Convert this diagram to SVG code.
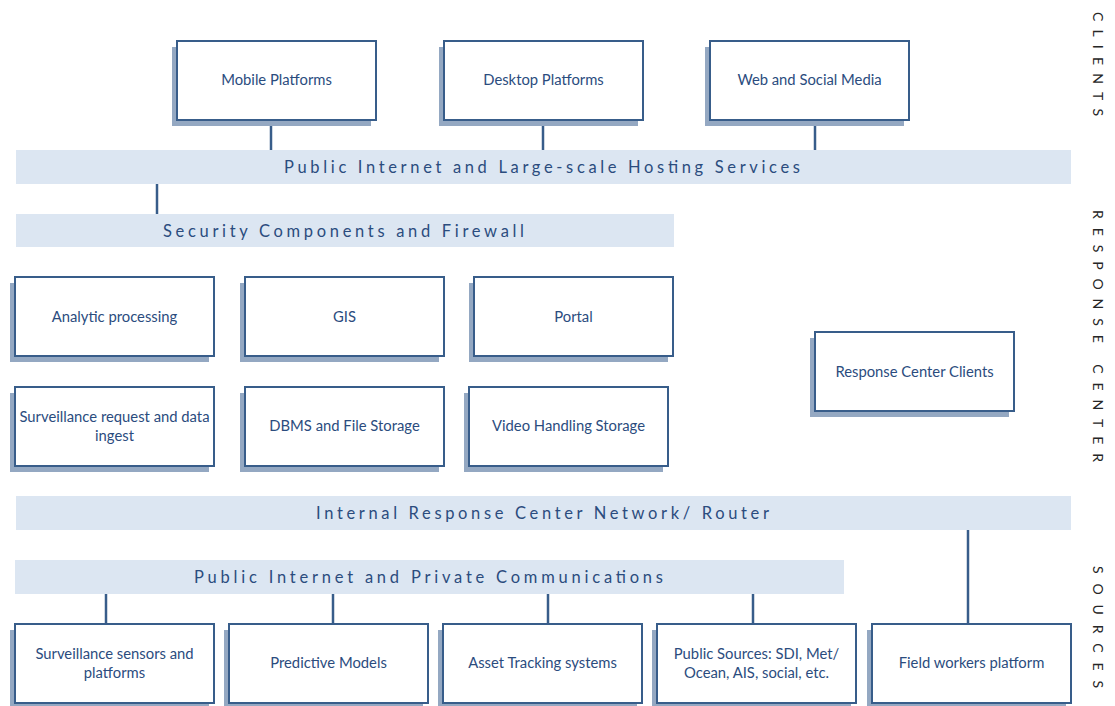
<svg xmlns="http://www.w3.org/2000/svg" width="1115" height="706" viewBox="0 0 1115 706">
<style>
.bg{fill:#ffffff}
.band{fill:#dce6f2}
.shadow{fill:#94a8c2}
.box{fill:#ffffff;stroke:#385d8a;stroke-width:2}
.lbl{font-family:Lato,"Liberation Sans",sans-serif;font-size:14.8px;fill:#2b4c7e;text-anchor:middle}
.blbl{font-family:Lato,"Liberation Sans",sans-serif;font-size:16.5px;fill:#2b4c7e}
.side{font-family:Lato,"Liberation Sans",sans-serif;font-size:14px;fill:#262626}
.conn{stroke:#385d8a;stroke-width:2.5;fill:none}
</style>
<rect class="bg" x="0" y="0" width="1115" height="706"/>
<g id="connectors">
<line class="conn" x1="271" y1="120" x2="271" y2="150"/>
<line class="conn" x1="543" y1="120" x2="543" y2="150"/>
<line class="conn" x1="815" y1="120" x2="815" y2="150"/>
<line class="conn" x1="157" y1="184" x2="157" y2="214"/>
<line class="conn" x1="106" y1="594" x2="106" y2="624"/>
<line class="conn" x1="333" y1="594" x2="333" y2="624"/>
<line class="conn" x1="548" y1="594" x2="548" y2="624"/>
<line class="conn" x1="753" y1="594" x2="753" y2="624"/>
<line class="conn" x1="968" y1="530" x2="968" y2="624"/>
</g>
<g id="band-public-hosting">
<rect class="band" x="16" y="150" width="1055" height="34"/>
<text class="blbl" x="284" y="173" textLength="516" lengthAdjust="spacing">Public Internet and Large-scale Hosting Services</text>
</g>
<g id="band-security">
<rect class="band" x="16" y="214" width="658" height="33"/>
<text class="blbl" x="163" y="237" textLength="361" lengthAdjust="spacing">Security Components and Firewall</text>
</g>
<g id="band-internal">
<rect class="band" x="16" y="496" width="1055" height="34"/>
<text class="blbl" x="316" y="519" textLength="453" lengthAdjust="spacing">Internal Response Center Network/ Router</text>
</g>
<g id="band-private">
<rect class="band" x="15" y="560" width="829" height="34"/>
<text class="blbl" x="194" y="583" textLength="469" lengthAdjust="spacing">Public Internet and Private Communications</text>
</g>
<g id="mobile">
<rect class="shadow" x="172" y="47" width="199" height="79"/>
<rect class="box" x="177" y="41" width="199" height="79"/>
<text class="lbl" x="276.5" y="85">Mobile Platforms</text>
</g>
<g id="desktop">
<rect class="shadow" x="439" y="47" width="199" height="79"/>
<rect class="box" x="444" y="41" width="199" height="79"/>
<text class="lbl" x="543.5" y="85">Desktop Platforms</text>
</g>
<g id="web">
<rect class="shadow" x="705" y="47" width="199" height="79"/>
<rect class="box" x="710" y="41" width="199" height="79"/>
<text class="lbl" x="809.5" y="85">Web and Social Media</text>
</g>
<g id="analytic">
<rect class="shadow" x="10" y="283" width="199" height="79"/>
<rect class="box" x="15" y="277" width="199" height="79"/>
<text class="lbl" x="114.5" y="322">Analytic processing</text>
</g>
<g id="gis">
<rect class="shadow" x="240" y="283" width="199" height="79"/>
<rect class="box" x="245" y="277" width="199" height="79"/>
<text class="lbl" x="344.5" y="322">GIS</text>
</g>
<g id="portal">
<rect class="shadow" x="469" y="283" width="199" height="79"/>
<rect class="box" x="474" y="277" width="199" height="79"/>
<text class="lbl" x="573.5" y="322">Portal</text>
</g>
<g id="surv-request">
<rect class="shadow" x="10" y="393" width="199" height="79"/>
<rect class="box" x="15" y="387" width="199" height="79"/>
<text class="lbl" x="114.5" y="422">Surveillance request and data</text>
<text class="lbl" x="114.5" y="441">ingest</text>
</g>
<g id="dbms">
<rect class="shadow" x="240" y="393" width="199" height="79"/>
<rect class="box" x="245" y="387" width="199" height="79"/>
<text class="lbl" x="344.5" y="431">DBMS and File Storage</text>
</g>
<g id="video">
<rect class="shadow" x="464" y="393" width="199" height="79"/>
<rect class="box" x="469" y="387" width="199" height="79"/>
<text class="lbl" x="568.5" y="431">Video Handling Storage</text>
</g>
<g id="rc-clients">
<rect class="shadow" x="810" y="338" width="199" height="79"/>
<rect class="box" x="815" y="332" width="199" height="79"/>
<text class="lbl" x="914.5" y="377">Response Center Clients</text>
</g>
<g id="surv-sensors">
<rect class="shadow" x="10" y="630" width="199" height="79"/>
<rect class="box" x="15" y="624" width="199" height="79"/>
<text class="lbl" x="114.5" y="659">Surveillance sensors and</text>
<text class="lbl" x="114.5" y="678">platforms</text>
</g>
<g id="predictive">
<rect class="shadow" x="224" y="630" width="199" height="79"/>
<rect class="box" x="229" y="624" width="199" height="79"/>
<text class="lbl" x="328.5" y="668">Predictive Models</text>
</g>
<g id="asset">
<rect class="shadow" x="438" y="630" width="199" height="79"/>
<rect class="box" x="443" y="624" width="199" height="79"/>
<text class="lbl" x="542.5" y="668">Asset Tracking systems</text>
</g>
<g id="public-sources">
<rect class="shadow" x="652" y="630" width="199" height="79"/>
<rect class="box" x="657" y="624" width="199" height="79"/>
<text class="lbl" x="756.5" y="659">Public Sources: SDI, Met/</text>
<text class="lbl" x="756.5" y="678">Ocean, AIS, social, etc.</text>
</g>
<g id="field">
<rect class="shadow" x="867" y="630" width="199" height="79"/>
<rect class="box" x="872" y="624" width="199" height="79"/>
<text class="lbl" x="971.5" y="668">Field workers platform</text>
</g>
<g id="side-labels">
<text class="side" transform="translate(1093,12) rotate(90)" textLength="104" lengthAdjust="spacing">CLIENTS</text>
<text class="side" transform="translate(1093,210) rotate(90)" textLength="252" lengthAdjust="spacing">RESPONSE CENTER</text>
<text class="side" transform="translate(1093,566) rotate(90)" textLength="122" lengthAdjust="spacing">SOURCES</text>
</g>
</svg>
